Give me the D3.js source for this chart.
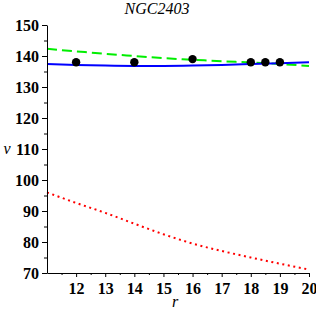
<!DOCTYPE html>
<html>
<head>
<meta charset="utf-8">
<script src="https://cdn.jsdelivr.net/npm/d3@7"></script>
<style>
  body { margin: 0; background: #fff; }
  svg { display: block; }
</style>
</head>
<body>
<svg id="chart" width="316" height="315"></svg>
<script>
const title = "NGC2403";
const xTicks = [12, 13, 14, 15, 16, 17, 18, 19, 20];
const yTicks = [70, 80, 90, 100, 110, 120, 130, 140, 150];
const curveR = [11, 12, 13, 14, 15, 16, 17, 18, 19, 20];
const blueV = [137.4, 137.1, 136.9, 136.8, 136.8, 136.9, 137.1, 137.4, 137.7, 138.0];
const greenV = [142.3, 141.5, 140.7, 140.0, 139.3, 138.8, 138.3, 137.9, 137.4, 136.8];
const redV = [96.0, 92.6, 89.4, 85.9, 82.5, 79.5, 77.1, 75.0, 73.0, 71.1];
const obsR = [12, 14, 16, 18, 18.5, 19];
const obsV = [138, 138, 139, 138, 138, 138];

const serif = "'Liberation Serif', 'Times New Roman', serif";
const svg = d3.select("#chart");
const x = d3.scaleLinear().domain([11, 20]).range([47, 309]);
const y = d3.scaleLinear().domain([70, 150]).range([273, 25]);

const line = vals => d3.line()
  .x((d, i) => x(curveR[i]))
  .y(d => y(d))
  .curve(d3.curveMonotoneX)(vals);

// curves
svg.append("path").attr("d", line(redV)).attr("fill", "none")
  .attr("stroke", "#ff0000").attr("stroke-width", 2).attr("stroke-dasharray", "2,3.6");
svg.append("path").attr("d", line(greenV)).attr("fill", "none")
  .attr("stroke", "#00ee00").attr("stroke-width", 2).attr("stroke-dasharray", "10,5");
svg.append("path").attr("d", line(blueV)).attr("fill", "none")
  .attr("stroke", "#0000ff").attr("stroke-width", 2);

// points
svg.selectAll("circle.obs").data(obsR).enter().append("circle")
  .attr("class", "obs")
  .attr("cx", d => x(d)).attr("cy", (d, i) => y(obsV[i])).attr("r", 4.2)
  .attr("fill", "#000");

// axes
const xMinor = d3.range(11.5, 20, 1);
const yMinor = d3.range(75, 150, 10);

svg.append("g").attr("class", "ax").attr("transform", "translate(0,273)")
  .call(d3.axisBottom(x).tickValues(xTicks).tickSize(4).tickPadding(6).tickSizeOuter(0));
svg.append("g").attr("transform", "translate(0,273)")
  .call(d3.axisBottom(x).tickValues(xMinor).tickSize(2).tickFormat("").tickSizeOuter(0))
  .select(".domain").remove();
svg.append("g").attr("class", "ax").attr("transform", "translate(47,0)")
  .call(d3.axisLeft(y).tickValues(yTicks).tickSize(5).tickPadding(3).tickSizeOuter(0));
svg.append("g").attr("transform", "translate(47,0)")
  .call(d3.axisLeft(y).tickValues(yMinor).tickSize(3).tickFormat("").tickSizeOuter(0))
  .select(".domain").remove();

svg.selectAll("g.ax")
  .attr("font-family", serif).attr("font-size", 16).attr("font-weight", "bold");
svg.selectAll("g.ax .tick text")
  .style("font-family", serif).style("font-weight", "bold").style("font-size", "16px")
  .attr("fill", "#000");
svg.selectAll(".domain, .tick line").attr("stroke", "#000").attr("stroke-width", 1);

// labels
svg.append("text").attr("x", 157).attr("y", 14).attr("text-anchor", "middle")
  .style("font-family", serif).style("font-style", "italic").style("font-size", "16px")
  .text(title);
svg.append("text").attr("x", 7).attr("y", 154).attr("text-anchor", "middle")
  .style("font-family", serif).style("font-style", "italic").style("font-size", "16px")
  .text("v");
svg.append("text").attr("x", 175).attr("y", 307).attr("text-anchor", "middle")
  .style("font-family", serif).style("font-style", "italic").style("font-size", "16px")
  .text("r");
</script>
</body>
</html>
